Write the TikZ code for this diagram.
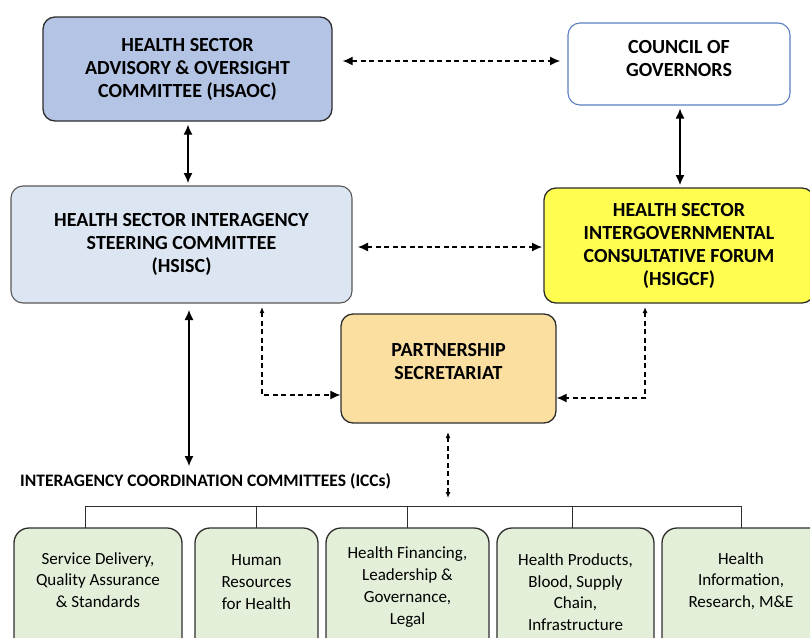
\documentclass[tikz,border=0pt]{standalone}
\usepackage{fontspec}
\setmainfont{Carlito}
\usetikzlibrary{arrows.meta}
\definecolor{aoc}{HTML}{B4C4E4}
\definecolor{isc}{HTML}{DCE6F2}
\definecolor{cog}{HTML}{5B7FC2}
\definecolor{igcf}{HTML}{FFFD50}
\definecolor{ps}{HTML}{FADFA0}
\definecolor{icc}{HTML}{E3EFD9}
\definecolor{edge}{HTML}{2E2E2E}
\begin{document}
\begin{tikzpicture}[x=1pt,y=-1pt,
  box/.style={draw=edge,line width=1.3pt,rounded corners=12pt,align=center,inner sep=0pt},
  title/.style={font=\fontsize{20}{23}\selectfont\bfseries},
  green/.style={box,fill=icc,rounded corners=15pt},
  gtext/.style={font=\fontsize{17}{21.7}\selectfont,align=center},
  bigtip/.style={Latex[length=10pt,width=9pt]},
  smalltip/.style={Latex[length=6pt,width=5pt]},
  solidarr/.style={{Latex[length=10pt,width=9pt]}-{Latex[length=10pt,width=9pt]},line width=1.2pt},
  dasharr/.style={{Latex[length=10pt,width=9pt]}-{Latex[length=10pt,width=9pt]},line width=1.2pt,dash pattern=on 5pt off 3.5pt},
  dasharrs/.style={{Latex[length=6pt,width=5pt]}-{Latex[length=10pt,width=9pt]},line width=1.2pt,dash pattern=on 5pt off 3.5pt},
  tree/.style={line width=1pt,draw=edge}]
\useasboundingbox (0,0) rectangle (810,637);
\begin{scope}
\clip (0,0) rectangle (810,637);
% main boxes
\node[box,fill=aoc,title,minimum width=289pt,minimum height=104pt] (aoc) at (187.5,69) {HEALTH SECTOR\\ADVISORY \& OVERSIGHT\\COMMITTEE (HSAOC)};
\node[box,draw=cog,fill=white,line width=1.1pt,minimum width=222pt,minimum height=82pt] (cog) at (679,64) {};
\node[title,align=center] (cogt) at (679,59) {COUNCIL OF\\GOVERNORS};
\node[box,draw=edge!80,fill=isc,line width=1.1pt,title,minimum width=341pt,minimum height=117pt] (isc) at (181.5,244.5) {HEALTH SECTOR INTERAGENCY\\STEERING COMMITTEE\\(HSISC)};
\node[box,fill=igcf,title,minimum width=270pt,minimum height=115pt] (igcf) at (679,245.5) {HEALTH SECTOR\\INTERGOVERNMENTAL\\CONSULTATIVE FORUM\\(HSIGCF)};
\node[box,fill=ps,minimum width=215pt,minimum height=109pt] (ps) at (448.5,368.5) {};
\node[title,align=center] (pst) at (448.5,361.5) {PARTNERSHIP\\SECRETARIAT};
% ICC label
\node[font=\fontsize{17.5}{20}\selectfont\bfseries,anchor=west,inner sep=0pt] (icclab) at (20,481) {INTERAGENCY COORDINATION COMMITTEES (ICCs)};
% ICC boxes
\node[green,minimum width=168pt,minimum height=130pt] (g1) at (98,593) {};
\node[gtext] (t1) at (98,580) {Service Delivery,\\Quality Assurance\\\& Standards};
\node[green,minimum width=123pt,minimum height=130pt] (g2) at (256.5,593) {};
\node[gtext] (t2) at (256.5,582) {Human\\Resources\\for Health};
\node[green,minimum width=163pt,minimum height=130pt] (g3) at (407.5,593) {};
\node[gtext] (t3) at (407.5,587) {Health Financing,\\Leadership \&\\Governance,\\Legal};
\node[green,minimum width=157pt,minimum height=130pt] (g4) at (575.5,593) {};
\node[gtext] (t4) at (575.5,592) {Health Products,\\Blood, Supply\\Chain,\\Infrastructure};
\node[green,minimum width=170pt,minimum height=130pt] (g5) at (747,593) {};
\node[gtext] (t5) at (741,581) {Health\\Information,\\Research, M\&E};
\end{scope}
% tree
\coordinate (bar) at (448,506);
\draw[tree] (85,528) |- (741,506) -- (741,528);
\draw[tree] (256,506) -- (256,528);
\draw[tree] (407,506) -- (407,528);
\draw[tree] (572,506) -- (572,528);
% arrows
\draw[dasharr] (aoc.east |- 0,61) ++(10,0) -- (560,61);
\draw[solidarr] (aoc.south -| 188,0) ++(0,3) -- (188,183);
\draw[solidarr] (cog.south -| 680,0) ++(0,3) -- (680,185);
\draw[dasharr] (358,247) -- (542,247);
\draw[solidarr] (189,310) -- (189,466);
\draw[dasharrs] (262,307) |- (ps.west |- 0,395);
\draw[dasharrs] (645,307) |- (ps.east |- 0,398);
\draw[{Latex[length=6pt,width=5pt]}-{Latex[length=6pt,width=5pt]},line width=1.2pt,dash pattern=on 5pt off 3.5pt] (448,432) -- (bar |- 0,498);
\end{tikzpicture}
\end{document}
